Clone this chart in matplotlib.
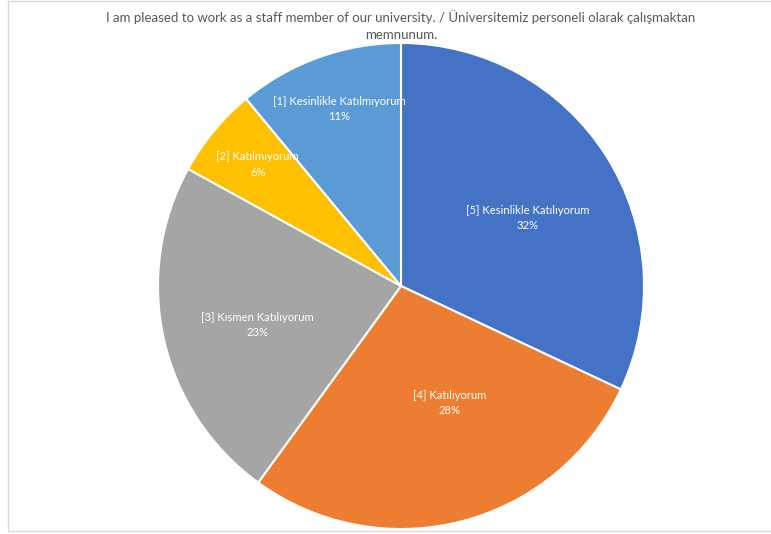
import matplotlib
matplotlib.use("Agg")
import matplotlib.pyplot as plt
import numpy as np
from matplotlib.patches import Rectangle

categories = ["[5] Kesinlikle Katılıyorum", "[4] Katılıyorum", "[3] Kısmen Katılıyorum",
              "[2] Katılmıyorum", "[1] Kesinlikle Katılmıyorum"]
values = [32, 28, 23, 6, 11]
colors = ["#4472C4", "#ED7D31", "#A5A5A5", "#FFC000", "#5B9BD5"]
title = "I am pleased to work as a staff member of our university. / Üniversitemiz personeli olarak çalışmaktan\nmemnunum."

# label positions in pie-radius units (layout)
label_pos = [(0.52, 0.28), (0.20, -0.48), (-0.59, -0.16), (-0.59, 0.50), (-0.255, 0.73)]

plt.rcParams['font.family'] = ['Lato', 'DejaVu Sans']

W, H = 771, 534
fig = plt.figure(figsize=(W / 100, H / 100), dpi=100)
fig.patch.set_facecolor("white")

# chart border
fig.add_artist(Rectangle((8 / W, 3 / H), (W + 5) / W, (H - 4) / H, transform=fig.transFigure,
                         fill=False, edgecolor="#D9D9D9", linewidth=1.0))

cx, cy, R = 401, 534 - 286, 243
ax = fig.add_axes([(cx - R) / W, (cy - R) / H, 2 * R / W, 2 * R / H])
wedges, _ = ax.pie(values, colors=colors, startangle=90, counterclock=False,
                   wedgeprops=dict(edgecolor="white", linewidth=1.5))
ax.set_xlim(-1, 1)
ax.set_ylim(-1, 1)
ax.set_aspect("equal")
ax.axis("off")

total = sum(values)
for cat, v, (x, y) in zip(categories, values, label_pos):
    ax.text(x, y, f"{cat}\n{round(100 * v / total)}%", ha="center", va="center",
            color="white", fontsize=8.1, linespacing=1.45)

fig.text(401 / W, 1 - 26 / H, title, ha="center", va="center", color="#595959",
         fontsize=9.5, linespacing=1.5)

fig.savefig("out.png", dpi=100, facecolor="white")
